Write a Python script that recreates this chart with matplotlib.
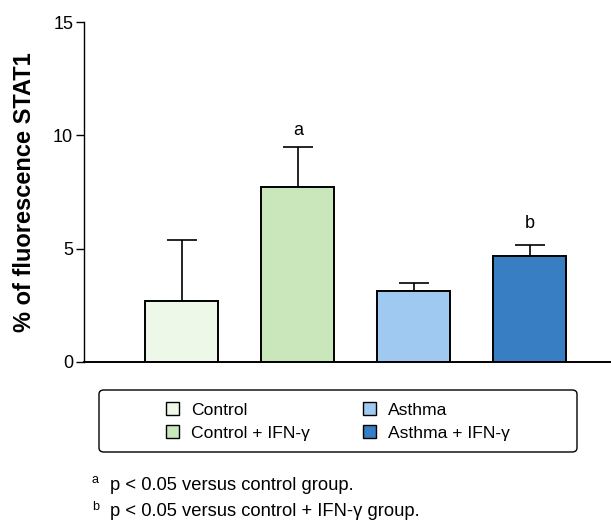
import numpy as np
import matplotlib.pyplot as plt
from matplotlib.patches import FancyBboxPatch, Patch

plt.rcParams["font.family"] = ["Liberation Sans", "DejaVu Sans"]

groups = ["Control", "Control + IFN-γ", "Asthma", "Asthma + IFN-γ"]
means = [2.68, 7.71, 3.13, 4.68]
errors = [2.72, 1.76, 0.36, 0.49]
colors = ["#EEF8E9", "#C9E7BA", "#A0C9F1", "#377EC3"]
sig_labels = ["", "a", "", "b"]
sig_y = [None, 10.0, None, 5.92]
footnotes = [("a", "p < 0.05 versus control group."),
             ("b", "p < 0.05 versus control + IFN-γ group.")]

fig = plt.figure(figsize=(6.11, 5.22), dpi=100)
ax = fig.add_axes([84.3 / 611, 160 / 522, 1 - 84.3 / 611, 340 / 522])

x = np.arange(len(groups))
ax.bar(x, means, width=0.63, color=colors, edgecolor="black", linewidth=1.4, zorder=2)
ax.errorbar(x, means, yerr=[np.zeros(len(errors)), errors], fmt="none",
            ecolor="black", elinewidth=1.2, capsize=11, capthick=1.2, zorder=1)

for xi, s, sy in zip(x, sig_labels, sig_y):
    if s:
        ax.text(xi, sy, s, ha="center", va="baseline", fontsize=13)

ax.set_xlim(-0.84, 3.70)
ax.set_ylim(0, 15)
ax.set_yticks([0, 5, 10, 15])
ax.set_xticks([])
ax.tick_params(axis="y", labelsize=13, length=6, width=1.0, direction="out", pad=2)
for side in ["top", "right"]:
    ax.spines[side].set_visible(False)
ax.spines["left"].set_linewidth(1.0)
ax.spines["bottom"].set_linewidth(1.4)
fig.text(25 / 611, 1 - 192.5 / 522, "% of fluorescence STAT1", rotation=90,
         fontsize=17, fontweight="bold", ha="center", va="center")

# legend frame
frame = FancyBboxPatch((99 / 611, 1 - 452 / 522), 478 / 611, 62 / 522,
                       boxstyle="round,pad=0,rounding_size=0.008",
                       transform=fig.transFigure, facecolor="white",
                       edgecolor="black", linewidth=1.0)
fig.patches.append(frame)

handles = [Patch(facecolor=c, edgecolor="black", linewidth=1.0) for c in colors]
fig.legend(handles, groups, ncol=2, loc="center left",
           bbox_to_anchor=(157 / 611, 1 - 421.5 / 522), frameon=False, fontsize=12.6,
           handlelength=0.75, handleheight=0.75, handletextpad=0.7,
           columnspacing=3.0, labelspacing=0.45, borderpad=0)

for i, (sup, txt) in enumerate(footnotes):
    y = 1 - (485 + 27 * i) / 522
    fig.text(92 / 611, y + 0.01, sup, fontsize=9, va="center", ha="left")
    fig.text(110 / 611, y, txt, fontsize=13.2, va="center", ha="left")

fig.savefig("out.png", dpi=100)
